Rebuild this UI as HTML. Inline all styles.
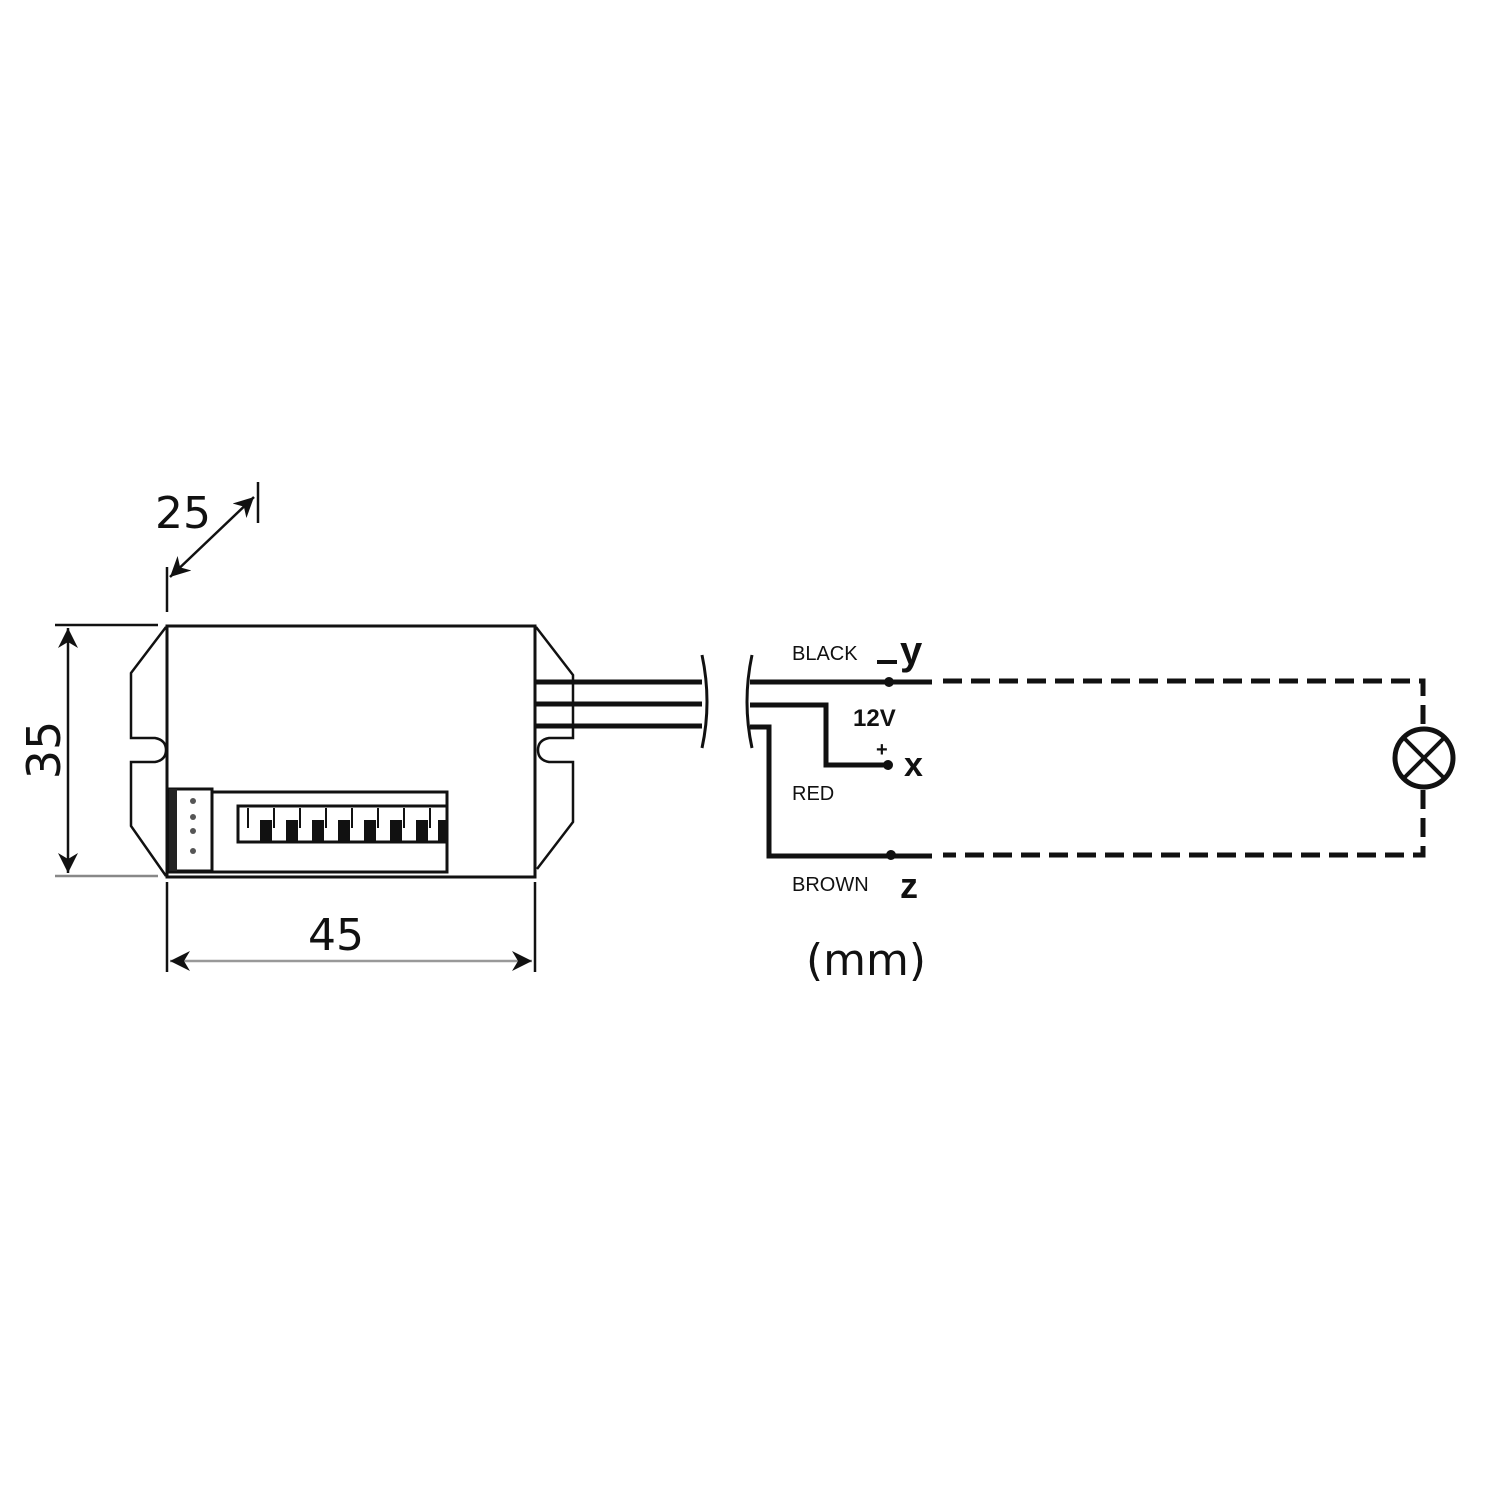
<!DOCTYPE html>
<html><head><meta charset="utf-8"><style>
html,body{margin:0;padding:0;background:#fff;}
svg{display:block;}
text{font-family:"Liberation Sans","DejaVu Sans",sans-serif;fill:#111;}
.dj{font-family:"DejaVu Sans","Liberation Sans",sans-serif;}
</style></head><body>
<svg width="1500" height="1500" viewBox="0 0 1500 1500" xmlns="http://www.w3.org/2000/svg">
<defs>
<marker id="ah2" viewBox="0 0 10 10" refX="10" refY="5" markerWidth="8" markerHeight="8" orient="auto-start-reverse" markerUnits="strokeWidth">
<path d="M0,0 L10,5 L0,10 L3,5 Z" fill="#111"/></marker>
</defs>
<g fill="none" stroke="#111" stroke-width="3">
<rect x="167" y="626" width="368" height="251"/>
<path d="M166,627 L131,673 L131,738 L155,738 Q166,740 166,750 Q166,760 155,762 L131,762 L131,826 L166,876" stroke-width="2.5"/>
<path d="M536,627 L573,675 L573,738 L549,738 Q538,740 538,750 Q538,760 549,762 L573,762 L573,822 L537,869" stroke-width="2.5"/>
<path d="M212,792 L447,792 L447,872 L167,872"/>
<rect x="169" y="789" width="43" height="82" stroke-width="3"/>
<rect x="169" y="789" width="8" height="82" fill="#222" stroke="none"/>
<rect x="238" y="806" width="209" height="36" stroke-width="3"/>
</g>
<g fill="#555">
<circle cx="193" cy="801" r="3"/><circle cx="193" cy="817" r="3"/><circle cx="193" cy="831" r="3"/><circle cx="193" cy="851" r="3"/>
</g>
<g fill="#111">
<rect x="260" y="820" width="12" height="22"/><rect x="286" y="820" width="12" height="22"/>
<rect x="312" y="820" width="12" height="22"/><rect x="338" y="820" width="12" height="22"/>
<rect x="364" y="820" width="12" height="22"/><rect x="390" y="820" width="12" height="22"/>
<rect x="416" y="820" width="12" height="22"/><rect x="438" y="820" width="9" height="22"/>
</g>
<g stroke="#111" stroke-width="2">
<line x1="248" y1="808" x2="248" y2="828"/><line x1="274" y1="808" x2="274" y2="828"/>
<line x1="300" y1="808" x2="300" y2="828"/><line x1="326" y1="808" x2="326" y2="828"/>
<line x1="352" y1="808" x2="352" y2="828"/><line x1="378" y1="808" x2="378" y2="828"/>
<line x1="404" y1="808" x2="404" y2="828"/><line x1="430" y1="808" x2="430" y2="828"/>
</g>
<g stroke="#111" stroke-width="5">
<line x1="535" y1="682" x2="702" y2="682"/>
<line x1="535" y1="704" x2="702" y2="704"/>
<line x1="535" y1="726" x2="702" y2="726"/>
</g>
<g fill="none" stroke="#111" stroke-width="3">
<path d="M702,655 Q712,702 702,748"/>
<path d="M752,655 Q742,702 752,748"/>
</g>
<g fill="none" stroke="#111" stroke-width="5">
<path d="M750,682 L932,682"/>
<path d="M750,705 L826,705 L826,765 L888,765"/>
<path d="M750,727 L769,727 L769,856 L932,856"/>
</g>
<circle cx="889" cy="682" r="5" fill="#111"/>
<circle cx="888" cy="765" r="5" fill="#111"/>
<circle cx="891" cy="855" r="5" fill="#111"/>
<g fill="none" stroke="#111" stroke-width="5" stroke-dasharray="19 9">
<path d="M943,681 L1423,681 L1423,727"/>
<path d="M1423,790 L1423,855 L943,855"/>
</g>
<circle cx="1424" cy="758" r="29" fill="none" stroke="#111" stroke-width="5"/>
<line x1="1404" y1="738" x2="1444" y2="778" stroke="#111" stroke-width="4"/>
<line x1="1444" y1="738" x2="1404" y2="778" stroke="#111" stroke-width="4"/>
<g stroke="#111" stroke-width="2.5" fill="none">
<line x1="55" y1="625" x2="158" y2="625"/>
<line x1="55" y1="876" x2="158" y2="876" stroke="#888"/>
<line x1="68" y1="628" x2="68" y2="873" marker-start="url(#ah2)" marker-end="url(#ah2)"/>
<line x1="167" y1="882" x2="167" y2="972"/>
<line x1="535" y1="882" x2="535" y2="972"/>
<line x1="170" y1="961" x2="532" y2="961" stroke="#999" marker-start="url(#ah2)" marker-end="url(#ah2)"/>
<line x1="167" y1="567" x2="167" y2="612"/>
<line x1="258" y1="482" x2="258" y2="523"/>
<line x1="170" y1="577" x2="254" y2="497" marker-start="url(#ah2)" marker-end="url(#ah2)"/>
</g>
<line x1="877" y1="662" x2="897" y2="662" stroke="#111" stroke-width="4"/>
<text class="dj" x="155" y="528" font-size="44">25</text>
<text class="dj" x="308" y="950" font-size="44">45</text>
<text class="dj" transform="translate(60,750) rotate(-90)" font-size="46" text-anchor="middle">35</text>
<text x="792" y="660" font-size="20" fill="#222">BLACK</text>
<text x="900" y="664" font-size="40" font-weight="bold">y</text>
<text x="853" y="726" font-size="24" font-weight="bold" font-family="Liberation Serif">12V</text>
<text x="876" y="756" font-size="20" font-weight="bold">+</text>
<text x="904" y="776" font-size="34" font-weight="bold">x</text>
<text x="792" y="800" font-size="20" fill="#222">RED</text>
<text x="792" y="891" font-size="20" fill="#222">BROWN</text>
<text x="900" y="898" font-size="36" font-weight="bold">z</text>
<text class="dj" x="806" y="975" font-size="44">(mm)</text>
</svg>
</body></html>
